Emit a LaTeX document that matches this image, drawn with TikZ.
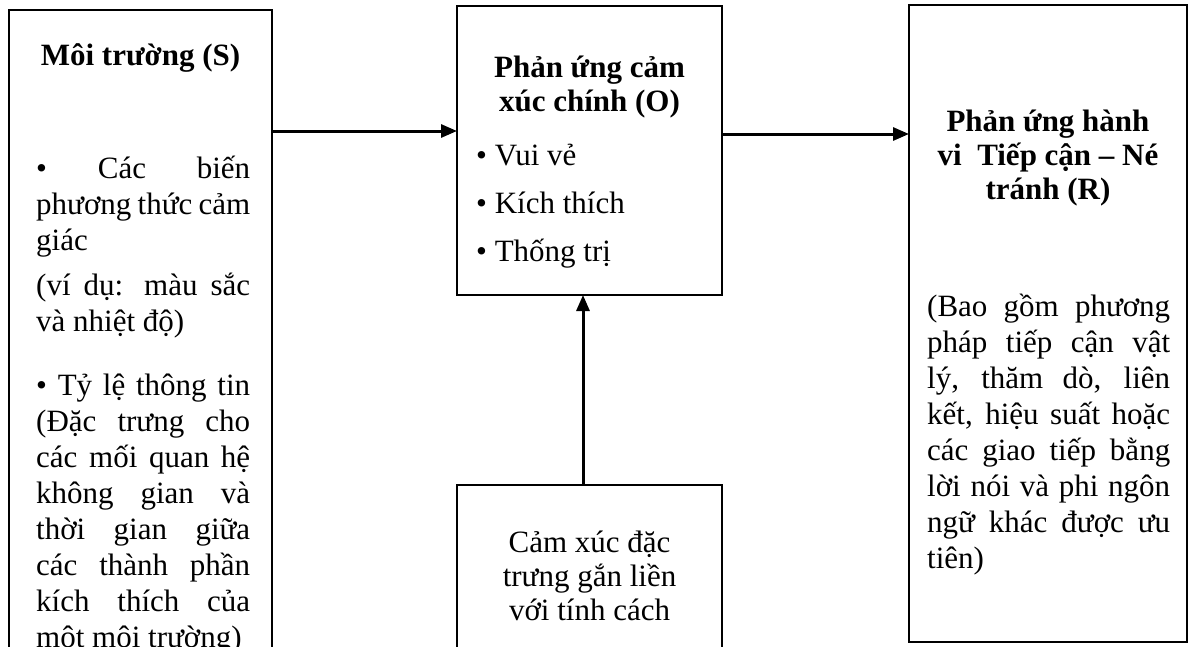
\documentclass[tikz,border=0pt]{standalone}
\usepackage{fontspec}
\setmainfont{Liberation Serif}
\usetikzlibrary{arrows.meta}

\newcommand{\hstrut}{\rule{0pt}{30pt}}

\tikzset{
  box/.style={draw, line width=2.5pt, rectangle, inner sep=0pt, outer sep=0pt},
  txt/.style={inner sep=0pt, font=\fontsize{31}{36}\selectfont,
    execute at begin node={\setlength{\parindent}{0pt}}},
  head/.style={txt, font=\fontsize{31}{34}\selectfont\bfseries, align=center},
  flow/.style={line width=3pt, -{Triangle[length=16pt,width=13pt]}},
}

\begin{document}
\begin{tikzpicture}[x=1pt,y=-1pt]
\useasboundingbox (0,0) rectangle (1189,646);
\clip (0,0) rectangle (1189,646);

% khung
\node[box, anchor=north west, minimum width=263pt, minimum height=760pt] (env) at (9,10) {};
\node[box, anchor=north west, minimum width=265pt, minimum height=289pt] (emo) at (457,6) {};
\node[box, anchor=north west, minimum width=265pt, minimum height=300pt] (trait) at (457,485) {};
\node[box, anchor=north west, minimum width=278pt, minimum height=637pt] (act) at (909,5) {};

% moi truong (S)
\node[txt, font=\fontsize{31}{36}\selectfont\bfseries, anchor=base] (envhead) at (140.5,65) {Môi trường (S)};
\node[txt, text width=214pt, align=justify, anchor=north west] (envtext) at (36,148) {\hstrut• Các biến\linebreak
  phương thức cảm\linebreak giác\par\vspace{9pt}
  (ví dụ: màu sắc\linebreak và nhiệt độ)\par\vspace{28pt}
  • Tỷ lệ thông tin\linebreak (Đặc trưng cho\linebreak các mối quan hệ\linebreak
  không gian và\linebreak thời gian giữa\linebreak các thành phần\linebreak
  kích thích của\linebreak một môi trường)};

% phan ung cam xuc (O)
\node[head, anchor=north] (emohead) at (589.5,47) {\hstrut Phản ứng cảm\\xúc chính (O)};
\node[txt, align=left, anchor=north west] (emolist) at (476,135) {\hstrut• Vui vẻ\\[12pt]• Kích thích\\[12pt]• Thống trị};

% cam xuc dac trung
\node[txt, font=\fontsize{31}{34}\selectfont, align=center, anchor=north] (traittext) at (589.5,522) {\hstrut Cảm xúc đặc\\trưng gắn liền\\với tính cách};

% phan ung hanh vi (R)
\node[head, anchor=north] (acthead) at (1048,101) {\hstrut Phản ứng hành\\vi\ \ Tiếp cận – Né\\tránh (R)};
\node[txt, text width=243pt, align=justify, anchor=north west] (acttext) at (927,286) {\hstrut(Bao gồm phương\linebreak
  pháp tiếp cận vật\linebreak lý, thăm dò, liên\linebreak kết, hiệu suất hoặc\linebreak
  các giao tiếp bằng\linebreak lời nói và phi ngôn\linebreak ngữ khác được ưu\linebreak tiên)};

% mui ten
\coordinate (h1) at (0,131);
\coordinate (h2) at (0,134);
\coordinate (v1) at (583,0);
\draw[flow] (env.east |- h1) -- (emo.west |- h1);
\draw[flow] (emo.east |- h2) -- (act.west |- h2);
\draw[flow] (trait.north -| v1) -- (emo.south -| v1);
\end{tikzpicture}
\end{document}
